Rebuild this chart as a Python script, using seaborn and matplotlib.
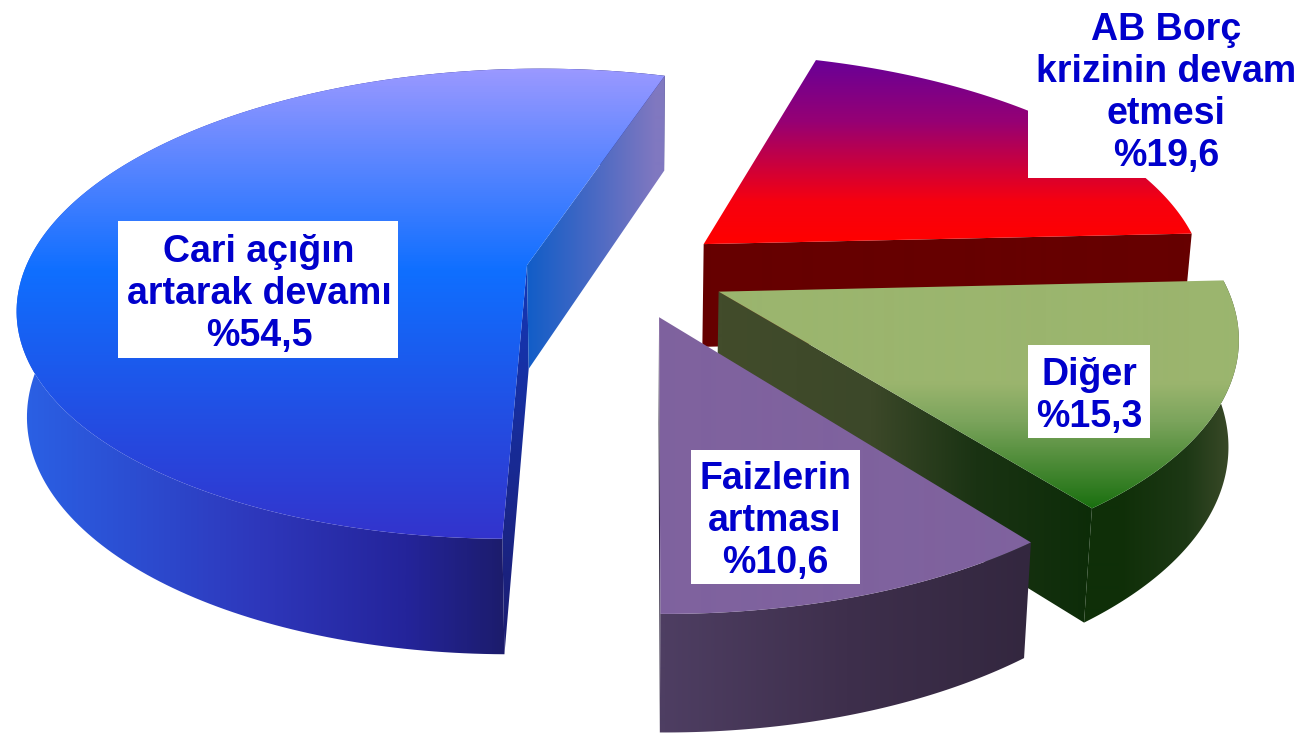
import numpy as np
import matplotlib
matplotlib.use("Agg")
import matplotlib.pyplot as plt
from matplotlib.path import Path
from matplotlib.patches import PathPatch, Rectangle
import seaborn as sns

# data
labels = ["Faizlerin\nartması\n%10,6", "Diğer\n%15,3", "AB Borç\nkrizinin devam\netmesi\n%19,6", "Cari açığın\nartarak devamı\n%54,5"]
values = [10.6, 15.3, 19.6, 54.5]

# projection / layout
START = 269.5
EXPLODE = 0.2
X0, Y0, A, B, P, D, Q = 626.0, 272.0, 503.0, 231.0, 0.165, 104.0, 0.983
BOXES = [(691, 450, 169, 134), (1028, 345, 122, 93), (1028, 0, 273, 178), (118, 221, 280, 137)]
CENTERS = [(775, 521), (1089, 396), (1166, 93), (259, 294)]
W, H = 1301, 734

sns.set_theme(style="white")
plt.rcParams["font.family"] = ["Liberation Sans", "DejaVu Sans"]
fig = plt.figure(figsize=(13.01, 7.34), dpi=100)
ax = fig.add_axes([0, 0, 1, 1])
ax.set_axis_off()


def project(u, v):
    s = 1.0 / (1.0 + P * v)
    return X0 + A * u * s, Y0 - B * v * s, s


def bottom(x, y, s):
    return X0 + Q * (x - X0), y + D * s ** 0.6


def cmap(*stops):
    """stops: (position, colour) pairs; positions 0..1."""
    n = 256
    idx = np.linspace(0, 1, n)
    pos = [p for p, _ in stops]
    cols = np.array([matplotlib.colors.to_rgb(c) for _, c in stops])
    table = np.column_stack([np.interp(idx, pos, cols[:, i]) for i in range(3)])
    return sns.blend_palette([tuple(t) for t in table], n_colors=n, as_cmap=True)


def fill(xs, ys, cm, lo, hi, axis, z):
    verts = np.column_stack([xs, ys])
    patch = PathPatch(Path(np.vstack([verts, verts[:1]]), closed=True), fc="none", ec="none")
    ax.add_patch(patch)
    if axis == "y":
        grad = np.clip((np.arange(H) + 0.5 - lo) / (hi - lo), 0, 1)[:, None]
    else:
        grad = np.clip((np.arange(W) + 0.5 - lo) / (hi - lo), 0, 1)[None, :]
    im = ax.imshow(grad, cmap=cm, vmin=0, vmax=1, extent=(0, W, H, 0), aspect="auto", zorder=z,
                   origin="upper", interpolation="bilinear")
    im.set_clip_path(patch)
    return im


def wedge(i):
    """Return projected geometry for wedge i from the data values."""
    t1 = START + sum(values[:i]) * 3.6
    t2 = t1 + values[i] * 3.6
    mid = np.radians((t1 + t2) / 2)
    cu, cv = EXPLODE * np.cos(mid), EXPLODE * np.sin(mid)
    th = np.radians(np.linspace(t1, t2, 200))
    rx, ry, rs = project(cu + np.cos(th), cv + np.sin(th))
    ax_, ay_, as_ = project(cu, cv)
    bx, by = bottom(rx, ry, rs)
    abx, aby = bottom(ax_, ay_, as_)
    return dict(rx=rx, ry=ry, bx=bx, by=by, ax=ax_, ay=ay_, abx=abx, aby=aby)


def top(g, cm, lo, hi, z):
    fill(np.r_[g["ax"], g["rx"]], np.r_[g["ay"], g["ry"]], cm, lo, hi, "y", z)


def outer(g, cm, lo, hi, z):
    fill(np.r_[g["rx"], g["bx"][::-1]], np.r_[g["ry"], g["by"][::-1]], cm, lo, hi, "x", z)


def radial(g, end, cm, lo, hi, axis, z):
    j = 0 if end == 0 else -1
    fill([g["ax"], g["rx"][j], g["bx"][j], g["abx"]], [g["ay"], g["ry"][j], g["by"][j], g["aby"]], cm, lo, hi, axis, z)


purple, green, red, blue = [wedge(i) for i in range(4)]

# blue wedge
radial(blue, -1, cmap((0, "#1438b8"), (1, "#1c1c70")), 265, 655, "y", 1.0)
outer(blue, cmap((0, "#2a62e6"), (0.5, "#2e37bb"), (0.8, "#24249a"), (1, "#1c1c6c")), 15, 505, 1.1)
radial(blue, 0, cmap((0, "#0b5cc8"), (0.5, "#4468c4"), (1, "#8078c0")), 520, 656, "x", 1.2)
top(blue, cmap((0, "#9c99ff"), (0.43, "#0f6fff"), (1, "#3333cc")), 66, 541, 1.3)

# red wedge
radial(red, 0, cmap((0, "#660000"), (1, "#660000")), 0, 734, "y", 2.0)
top(red, cmap((0, "#660099"), (0.35, "#960074"), (0.78, "#f7000f"), (1, "#ff0000")), 56, 243, 2.1)

# green wedge
outer(green, cmap((0, "#0f300a"), (0.5, "#0f2f08"), (0.78, "#1d3815"), (1, "#404d2c")), 1000, 1240, 3.0)
radial(green, 0, cmap((0, "#424c2b"), (0.4, "#3c4829"), (0.68, "#1a3313"), (1, "#0c2c08")), 722, 1095, "x", 3.1)
top(green, cmap((0, "#9bb56e"), (0.45, "#9bb56e"), (0.62, "#7ba45c"), (1, "#1a7010")), 280, 508, 3.2)

# purple wedge
radial(purple, 0, cmap((0, "#2f2740"), (1, "#2f2740")), 0, 734, "y", 4.0)
outer(purple, cmap((0, "#4e3e62"), (0.5, "#3e2f4c"), (1, "#33273f")), 665, 1030, 4.1)
top(purple, cmap((0, "#7f629e"), (1, "#7f629e")), 0, 734, 4.2)

# labels
for (bx_, by_, bw, bh), (cx, cy), lab in zip(BOXES, CENTERS, labels):
    ax.add_patch(Rectangle((bx_, by_), bw, bh, fc="white", ec="none", zorder=5))
    ax.text(cx, cy, lab, ha="center", va="center", ma="center", fontsize=27, fontweight="bold",
            color="#0000cc", linespacing=1.22, zorder=6)

ax.set_xlim(0, W)
ax.set_ylim(H, 0)
fig.savefig("out.png", dpi=100)
